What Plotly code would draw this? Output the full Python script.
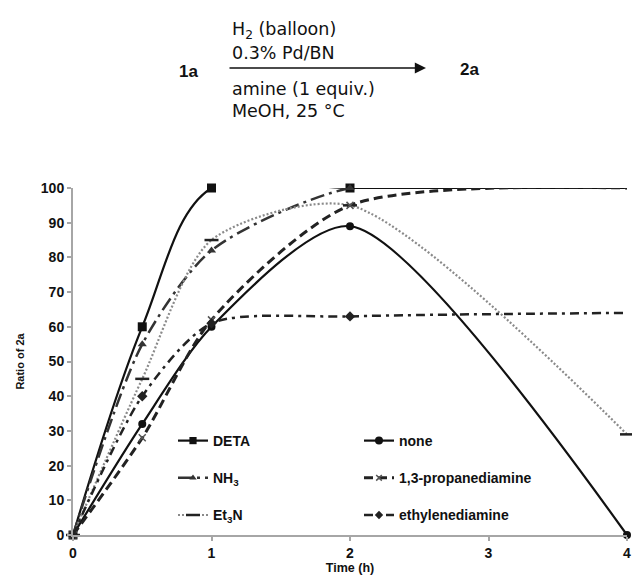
import plotly.graph_objects as go

time_h = [0, 0.5, 1, 2, 4]
deta = [0, 60, 100, 100, 100]
none_ = [0, 32, 60, 89, 0]
nh3 = [0, 55, 82, 100, 100]
propanediamine = [0, 28, 62, 95, 100]
et3n = [0, 45, 85, 95, 29]
ethylenediamine = [0, 40, 61, 63, 64]

x_ticks = [0, 1, 2, 3, 4]
y_ticks = [0, 10, 20, 30, 40, 50, 60, 70, 80, 90, 100]

FONT = "Liberation Sans"

# figure geometry (pixels)
W, H = 632, 579
L, R, T, B = 73, 5, 188, 44
PW = W - L - R
PH = H - T - B

def px(xp):
    return (xp - L) / PW

def py(yp):
    return (H - B - yp) / PH

fig = go.Figure()

def add(name, y, dash, width, color, symbol, msize, legend, mline=None,
        smooth=0.75, hide_last=False):
    sizes = [msize] * len(time_h)
    if hide_last:
        sizes[-1] = 0
    marker = dict(symbol=symbol, size=sizes, color=color, opacity=1,
                  line=mline if mline else dict(width=0, color=color))
    fig.add_trace(go.Scatter(
        x=time_h, y=y, name=name, mode="lines+markers",
        line=dict(shape="spline", smoothing=smooth, dash=dash, width=width, color=color),
        marker=marker, legend=legend, legendgroup=name, cliponaxis=False,
    ))

add("DETA", deta, "solid", 2.2, "#111111", "square", 9, "legend", smooth=1, hide_last=True)
add("NH<sub>3</sub>", nh3, "14px,5px,3px,5px", 2.5, "#333333", "triangle-up", 8, "legend",
    hide_last=True)
add("Et<sub>3</sub>N", et3n, "2px,2px", 2.2, "#8a8a8a", "line-ew", 10, "legend",
    mline=dict(width=2.5, color="#222222"))
add("none", none_, "solid", 2.2, "#111111", "circle", 8, "legend2")
add("1,3-propanediamine", propanediamine, "9px,5px", 3, "#222222", "x-thin", 7, "legend2",
    mline=dict(width=1.5, color="#555555"), hide_last=True)
add("ethylenediamine", ethylenediamine, "9px,5px,3px,5px", 2.5, "#222222", "diamond", 8,
    "legend2", hide_last=True)

axis_common = dict(
    showgrid=False, zeroline=False, showline=True, linecolor="#a6a6a6", linewidth=2,
    ticks="outside", ticklen=4, tickcolor="#a6a6a6", tickwidth=1.5, automargin=False,
    tickfont=dict(family=FONT, size=14, color="#111111", weight="bold"),
)

legend_font = dict(family=FONT, size=14, color="#111111", weight="bold")

fig.update_layout(
    width=W, height=H,
    margin=dict(l=L, r=R, t=T, b=B),
    plot_bgcolor="white", paper_bgcolor="white",
    xaxis=dict(range=[0, 4], tickvals=x_ticks, **axis_common,
               title=dict(text="Time (h)", standoff=2,
                          font=dict(family=FONT, size=12.5, color="#111111", weight="bold"))),
    yaxis=dict(range=[0, 100], tickvals=y_ticks, **axis_common,
               title=dict(text="Ratio of 2a", standoff=14,
                          font=dict(family=FONT, size=11, color="#111111", weight="bold"))),
    legend=dict(x=px(173), y=py(425), xanchor="left", yanchor="top",
                bgcolor="rgba(0,0,0,0)", tracegroupgap=16, font=legend_font),
    legend2=dict(x=px(359), y=py(425), xanchor="left", yanchor="top",
                 bgcolor="rgba(0,0,0,0)", tracegroupgap=16, font=legend_font),
    showlegend=True,
)

scheme_font = dict(family="DejaVu Sans", size=17.5, color="#111111")
texts = [
    ("H<sub>2</sub> (balloon)", 30),
    ("0.3% Pd/BN", 53),
    ("amine (1 equiv.)", 89),
    ("MeOH, 25 °C", 111),
]
for t, yp in texts:
    fig.add_annotation(text=t, x=px(230), y=py(yp), xref="paper", yref="paper",
                       xanchor="left", yanchor="middle", showarrow=False, font=scheme_font)

for t, xp, yp in [("1a", 188, 71), ("2a", 469, 69)]:
    fig.add_annotation(text=t, x=px(xp), y=py(yp), xref="paper", yref="paper",
                       xanchor="center", yanchor="middle", showarrow=False,
                       font=dict(family=FONT, size=17, color="#111111", weight="bold"))

fig.add_annotation(text="", x=px(426), y=py(68), xref="paper", yref="paper",
                   ax=-198, ay=0, showarrow=True, arrowhead=2, arrowsize=1.6,
                   arrowwidth=1.4, arrowcolor="#111111")

fig.write_html("out.html", config={"displayModeBar": False},
               post_script="document.body.style.margin='0';")
